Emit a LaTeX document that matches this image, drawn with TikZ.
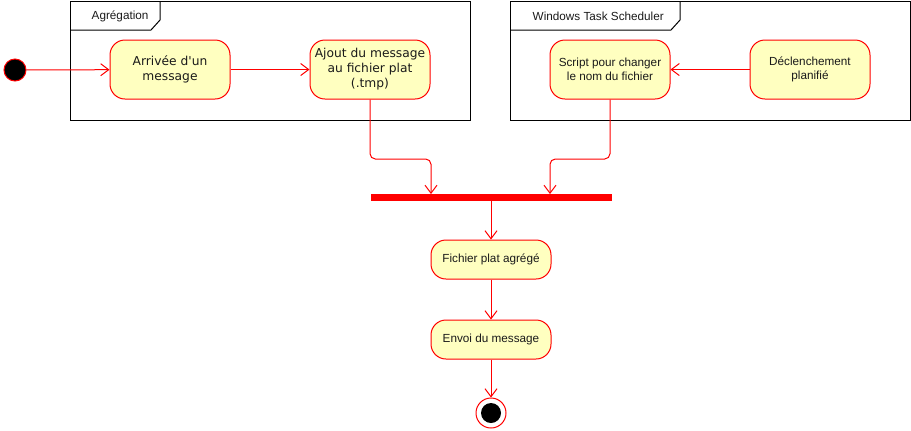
\documentclass[tikz,border=0pt]{standalone}
\usepackage{fontspec}
\setmainfont{Liberation Sans}
\newfontfamily\verd{DejaVu Sans}
\usetikzlibrary{arrows.meta}
\definecolor{actfill}{HTML}{FFFFC0}
\definecolor{actred}{HTML}{FF0000}
\definecolor{txt}{HTML}{1A1A1A}
\tikzset{
  act/.style={draw=actred, fill=actfill, rounded corners=11.25pt, minimum width=90pt, line width=0.75pt, align=center, inner sep=0pt, text=txt},
  acttall/.style={act, minimum height=44.25pt},
  actshort/.style={act, minimum height=29.25pt},
  flow/.style={draw=actred, line width=0.75pt, -{Straight Barb[length=6pt,width=9pt,line width=0.75pt]}, rounded corners=4pt},
  frame/.style={draw=black, line width=0.75pt},
  vfont/.style={font=\verd\fontsize{9.2}{11.25}\selectfont},
  hfont/.style={font=\fontsize{8.8}{10.5}\selectfont},
}
\begin{document}
\begin{tikzpicture}[x=0.75pt,y=-0.75pt]
\useasboundingbox (0,0) rectangle (911,430);
% frames
\draw[frame] (70,1) rectangle (470,120);
\draw[frame] (70,30) -- (151,30) -- (160,20) -- (160,1);
\node[hfont, text=txt, anchor=west] (fa) at (87,16) {Agrégation};
\draw[frame] (510,1) rectangle (910,120);
\draw[frame] (510,30) -- (671,30) -- (680,20) -- (680,1);
\node[hfont, text=txt, anchor=west] (fb) at (528,16) {Windows Task Scheduler};
% start
\node[circle, fill=black, draw=actred, line width=0.75pt, minimum size=16.5pt, inner sep=0pt] (start) at (15,70) {};
% activities
\node[acttall, vfont] (a1) at (170,69.5) {Arrivée d'un\\message};
\node[acttall, vfont] (a2) at (370,69.5) {Ajout du message\\au fichier plat\\(.tmp)};
\node[acttall, hfont] (a3) at (610,69.5) {Script pour changer\\le nom du fichier};
\node[acttall, hfont] (a4) at (810,69.5) {Déclenchement\\planifié};
% fork bar
\node[fill=actred, draw=actred, line width=0.5pt, minimum width=180pt, minimum height=4.5pt, inner sep=0pt] (bar) at (491,197) {};
\node[actshort, hfont] (a5) at (491,259.5) {Fichier plat agrégé};
\node[actshort, hfont] (a6) at (491,339.5) {Envoi du message};
% end
\node[circle, draw=actred, fill=white, line width=0.75pt, minimum size=22.5pt, inner sep=0pt] (end) at (491,413) {};
\node[circle, fill=black, minimum size=15pt, inner sep=0pt] (endin) at (end) {};
% connectors
\draw[flow] (start) -- (a1);
\draw[flow] (a1) -- (a2);
\draw[flow] (a4) -- (a3);
\draw[flow] (a2.south) -- (370,159) -- (431,159) -- (431,194);
\draw[flow] (a3.south) -- (610,159) -- (550,159) -- (550,194);
\draw[flow] (bar.south) -- (a5.north);
\draw[flow] (a5) -- (a6);
\draw[flow] (a6) -- (end);
\end{tikzpicture}
\end{document}
